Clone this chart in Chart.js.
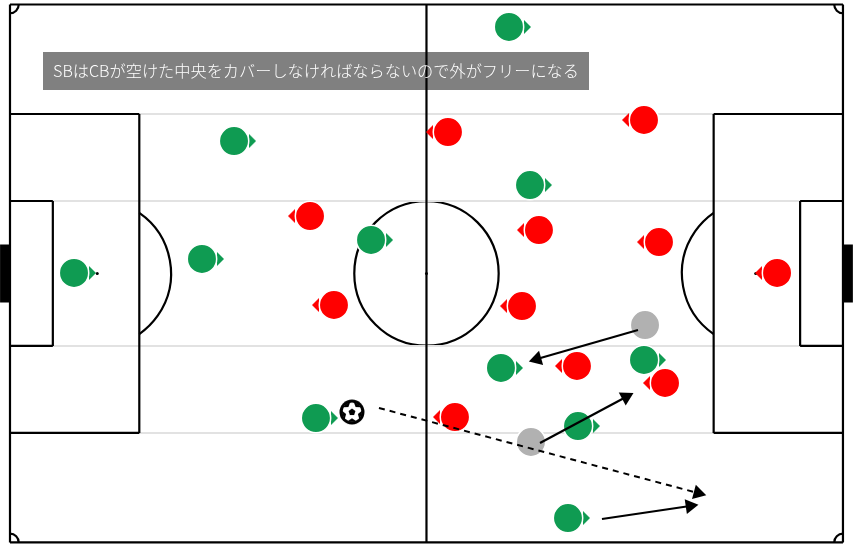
<!DOCTYPE html>
<html>
<head>
<meta charset="utf-8">
<style>
  html, body { margin: 0; padding: 0; background: #fff; }
  canvas { display: block; }
</style>
<script src="https://cdn.jsdelivr.net/npm/chart.js@4"></script>
</head>
<body>
<canvas id="pitch" width="857" height="548"></canvas>
<script>
// all positions in metres on a 105 x 68 pitch
const caption = 'SBはCBが空けた中央をカバーしなければならないので外がフリーになる';

const greenX = [62.90, 28.24, 24.20, 8.07, 45.51, 65.55, 61.89, 79.92, 71.60, 38.57, 70.34];
const greenY = [2.84, 17.26, 32.17, 33.94, 29.77, 22.82, 45.95, 44.94, 53.29, 52.28, 64.92];
const redX = [55.21, 79.92, 37.82, 66.68, 81.81, 96.69, 40.84, 64.54, 71.47, 82.57, 56.09];
const redY = [16.12, 14.60, 26.74, 28.51, 30.03, 33.94, 37.99, 38.12, 45.70, 47.85, 52.15];
const ghostX = [80.05, 65.67];
const ghostY = [40.52, 55.31];
const ballX = [43.11];
const ballY = [51.52];

// from, to
const runs = [
    [79.16, 41.15, 66.43, 44.82],
    [66.81, 55.44, 77.65, 49.62],
    [74.62, 65.04, 85.72, 63.40]
];
const pass = [46.51, 51.01, 86.73, 61.76];

const pitchLines = [
    [0, 0, 105, 0], [105, 0, 105, 68], [105, 68, 0, 68], [0, 68, 0, 0],
    [52.5, 0, 52.5, 68],
    [0, 13.84, 16.3, 13.84], [16.3, 13.84, 16.3, 54.16], [16.3, 54.16, 0, 54.16],
    [0, 24.84, 5.4, 24.84], [5.4, 24.84, 5.4, 43.16], [5.4, 43.16, 0, 43.16],
    [105, 13.84, 88.7, 13.84], [88.7, 13.84, 88.7, 54.16], [88.7, 54.16, 105, 54.16],
    [105, 24.84, 99.6, 24.84], [99.6, 24.84, 99.6, 43.16], [99.6, 43.16, 105, 43.16]
];
const guideLines = [
    [0, 13.84, 105, 13.84], [0, 24.84, 105, 24.84], [0, 43.16, 105, 43.16], [0, 54.16, 105, 54.16]
];
const goals = [[-0.62, 30.34, -0.62, 37.66], [105.62, 30.34, 105.62, 37.66]];
const spots = [{ x: 11, y: 34 }, { x: 52.5, y: 34 }, { x: 94, y: 34 }];

const GREEN = '#0f9b52';
const RED = '#ff0000';
const GHOST = '#b1b1b1';

function directionMark(color, toRight) {
    const c = document.createElement('canvas');
    c.width = 7;
    c.height = 14;
    const g = c.getContext('2d');
    g.fillStyle = color;
    g.beginPath();
    if (toRight) {
        g.moveTo(0, 0); g.lineTo(7, 7); g.lineTo(0, 14);
    } else {
        g.moveTo(7, 0); g.lineTo(0, 7); g.lineTo(7, 14);
    }
    g.closePath();
    g.fill();
    return c;
}

function ballIcon() {
    const c = document.createElement('canvas');
    c.width = 26;
    c.height = 26;
    const g = c.getContext('2d');
    const m = 13;
    g.fillStyle = '#000';
    g.beginPath();
    g.arc(m, m, 12.5, 0, Math.PI * 2);
    g.fill();
    g.fillStyle = '#fff';
    g.beginPath();
    g.arc(m, m, 9.5, 0, Math.PI * 2);
    g.fill();
    g.fillStyle = '#000';
    g.beginPath();
    for (let i = 0; i < 5; i++) {
        const a = -Math.PI / 2 + i * Math.PI * 2 / 5;
        g.lineTo(m + Math.cos(a) * 3.6, m + Math.sin(a) * 3.6);
    }
    g.fill();
    for (let i = 0; i < 5; i++) {
        const a = Math.PI / 2 + i * Math.PI * 2 / 5;
        g.beginPath();
        g.moveTo(m + Math.cos(a - 0.5) * 11, m + Math.sin(a - 0.5) * 11);
        g.lineTo(m + Math.cos(a) * 6.2, m + Math.sin(a) * 6.2);
        g.lineTo(m + Math.cos(a + 0.5) * 11, m + Math.sin(a + 0.5) * 11);
        g.fill();
    }
    return c;
}

function zip(xs, ys) {
    return xs.map((x, i) => ({ x: x, y: ys[i] }));
}

function segment(s, color, width, order, dash) {
    return {
        data: [{ x: s[0], y: s[1] }, { x: s[2], y: s[3] }],
        showLine: true,
        borderColor: color,
        borderWidth: width,
        borderDash: dash || [],
        borderCapStyle: 'butt',
        pointRadius: 0,
        clip: false,
        order: order
    };
}

function headAngle(s) {
    return function (ctx) {
        const sx = ctx.chart.scales.x;
        const sy = ctx.chart.scales.y;
        const dx = sx.getPixelForValue(s[2]) - sx.getPixelForValue(s[0]);
        const dy = sy.getPixelForValue(s[3]) - sy.getPixelForValue(s[1]);
        return Math.atan2(dx, -dy) * 180 / Math.PI;
    };
}

function arrowHead(s) {
    return {
        data: [{ x: s[2], y: s[3] }],
        pointStyle: 'triangle',
        pointRadius: 8.5,
        pointRotation: headAngle(s),
        backgroundColor: '#000',
        borderColor: '#000',
        borderWidth: 0,
        order: 1
    };
}

function players(xs, ys, color) {
    return {
        data: zip(xs, ys),
        pointStyle: 'circle',
        pointRadius: 14.7,
        backgroundColor: color,
        borderColor: '#fff',
        borderWidth: 1.5,
        order: 3
    };
}

function marks(xs, ys, color, shift) {
    return {
        data: xs.map((x, i) => ({ x: x + shift, y: ys[i] })),
        pointStyle: directionMark(color, shift > 0),
        backgroundColor: color,
        order: 4
    };
}

const datasets = [];
guideLines.forEach(s => datasets.push(segment(s, '#e2e2e2', 2, 7)));
pitchLines.forEach(s => datasets.push(segment(s, '#000', 2.2, 6)));
goals.forEach(s => datasets.push(segment(s, '#000', 10, 6)));
datasets.push({ data: spots, pointRadius: 1.5, backgroundColor: '#000', borderWidth: 0, order: 5 });
datasets.push(marks(greenX, greenY, GREEN, 2.33));
datasets.push(marks(redX, redY, RED, -2.33));
datasets.push(players(greenX, greenY, GREEN));
datasets.push(players(redX, redY, RED));
datasets.push(players(ghostX, ghostY, GHOST));
datasets.push({ data: zip(ballX, ballY), pointStyle: ballIcon(), order: 2 });
runs.forEach(s => {
    datasets.push(segment(s, '#000', 2.2, 1));
    datasets.push(arrowHead(s));
});
datasets.push(segment(pass, '#000', 2, 1, [6, 5]));
datasets.push(arrowHead(pass));

// arcs and caption need the raw canvas, still placed through the scales
const pitchExtras = {
    id: 'pitchExtras',
    beforeDatasetsDraw(chart) {
        const g = chart.ctx;
        const sx = chart.scales.x;
        const sy = chart.scales.y;
        const unit = sx.getPixelForValue(1) - sx.getPixelForValue(0);
        const arc = (x, y, r, a, b) => {
            g.beginPath();
            g.arc(sx.getPixelForValue(x), sy.getPixelForValue(y), r * unit, a, b);
            g.stroke();
        };
        g.save();
        g.fillStyle = '#808080';
        g.fillRect(43, 52, 546, 38);
        g.strokeStyle = '#000';
        g.lineWidth = 2.2;
        const open = Math.acos(5.3 / 9.3);
        arc(52.5, 34, 9.1, 0, Math.PI * 2);
        arc(11, 34, 9.3, -open, open);
        arc(94, 34, 9.3, Math.PI - open, Math.PI + open);
        arc(0, 0, 1.1, 0, Math.PI / 2);
        arc(105, 0, 1.1, Math.PI / 2, Math.PI);
        arc(0, 68, 1.1, -Math.PI / 2, 0);
        arc(105, 68, 1.1, Math.PI, Math.PI * 1.5);
        g.restore();
    },
    afterDatasetsDraw(chart) {
        const g = chart.ctx;
        g.save();
        g.fillStyle = '#fff';
        g.font = '300 16.2px "Noto Sans CJK JP"';
        g.textBaseline = 'middle';
        g.textAlign = 'left';
        g.fillText(caption, 53, 71);
        g.restore();
    }
};

new Chart(document.getElementById('pitch'), {
    type: 'scatter',
    data: { datasets: datasets },
    options: {
        responsive: false,
        animation: false,
        layout: { padding: 0, autoPadding: false },
        plugins: { legend: { display: false }, tooltip: { enabled: false } },
        scales: {
            x: { display: false, min: -1.26, max: 106.77 },
            y: { display: false, min: -0.57, max: 68.71, reverse: true }
        }
    },
    plugins: [pitchExtras]
});
</script>
</body>
</html>
